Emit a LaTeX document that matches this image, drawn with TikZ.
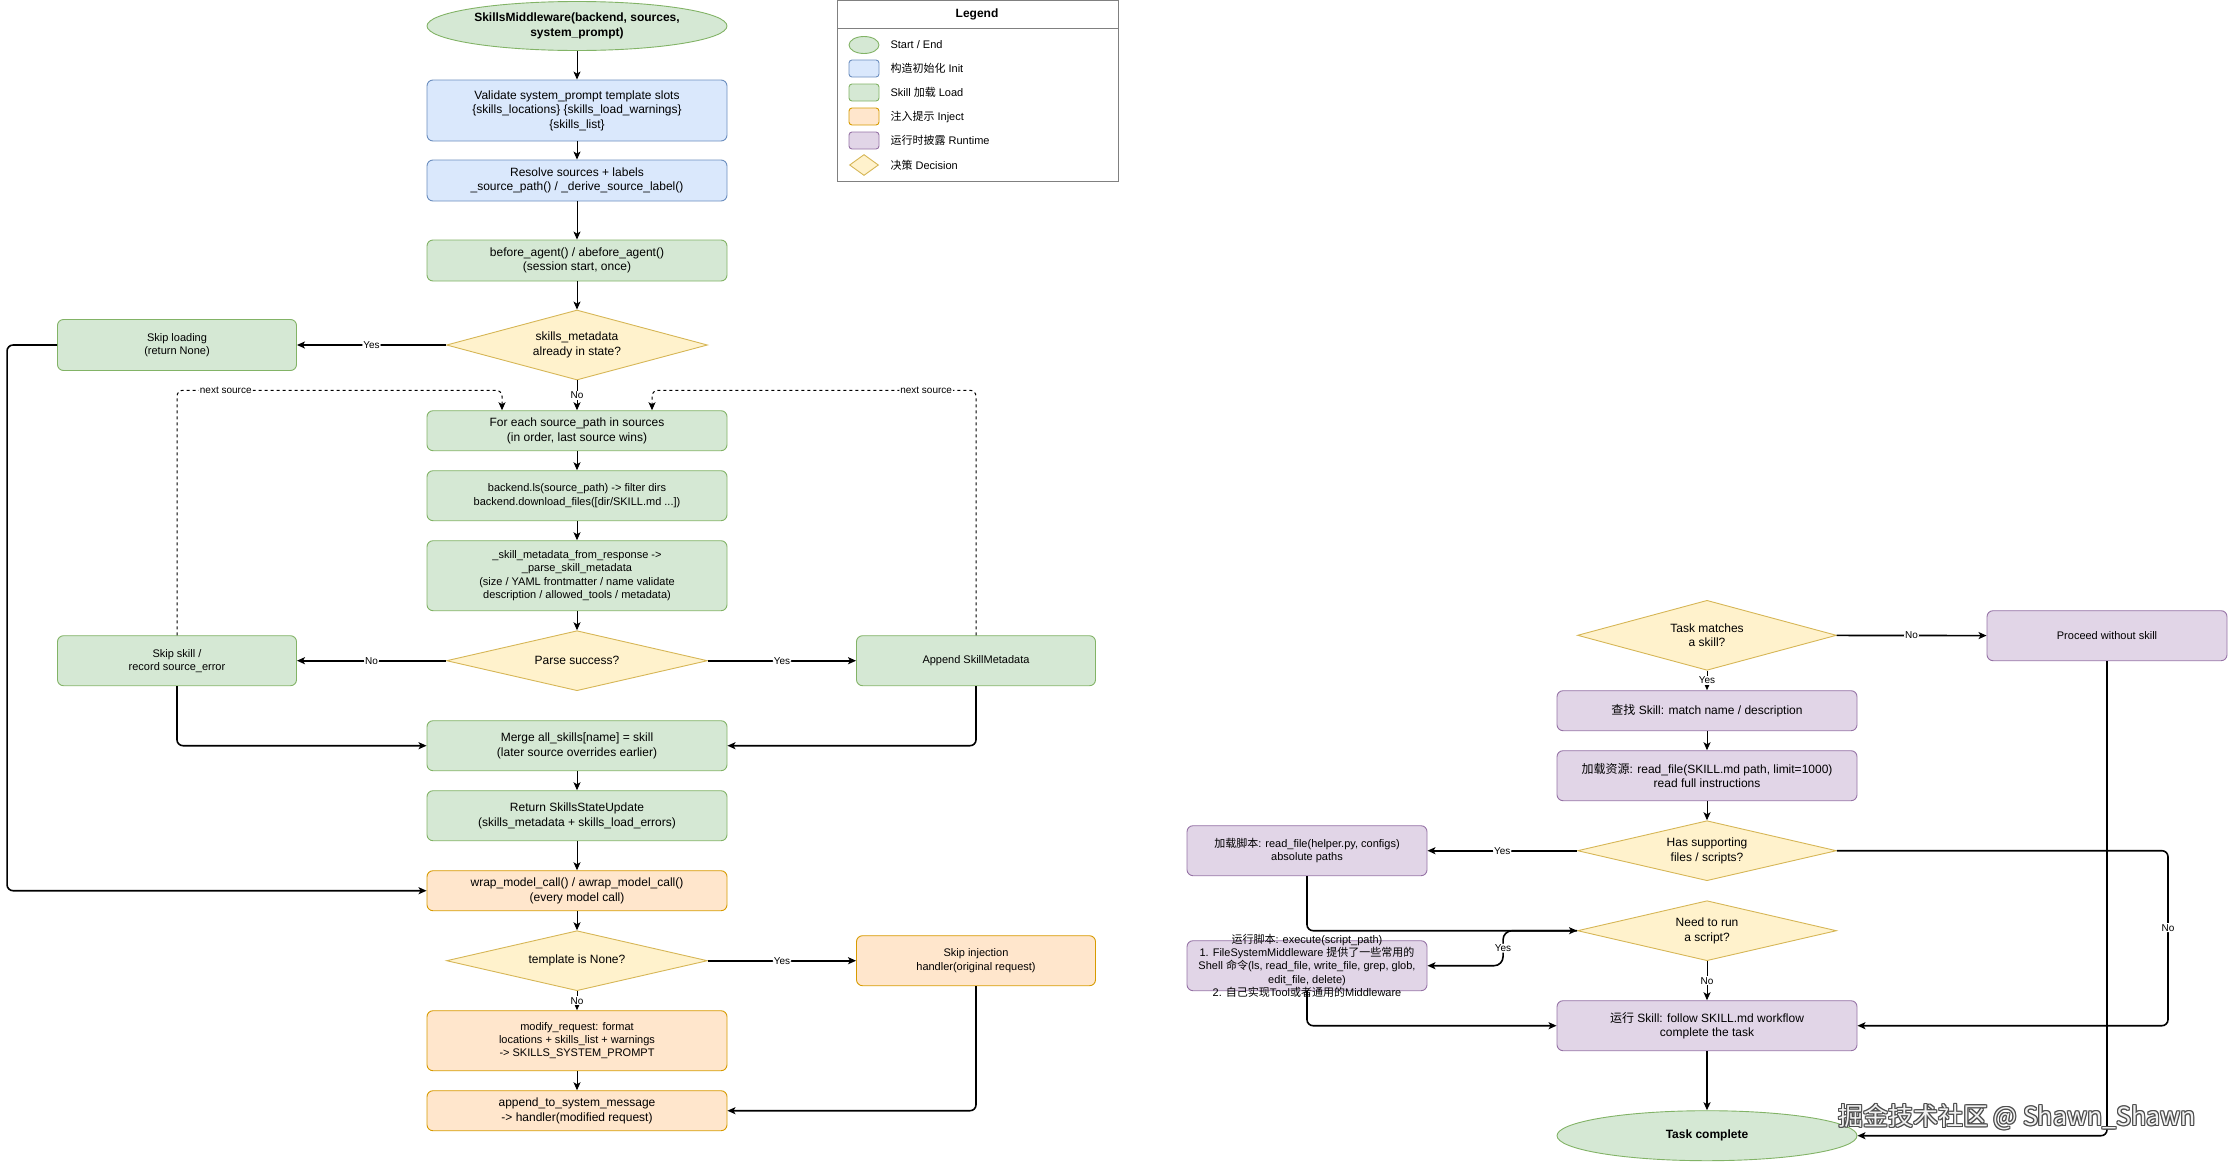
\documentclass[tikz,border=0pt]{standalone}
\usepackage{fontspec}
\setmainfont{Liberation Sans}
\newfontfamily\cjkfont{Noto Sans CJK SC}
\usetikzlibrary{shapes.geometric,arrows.meta}

\definecolor{fillinit}{HTML}{DAE8FC}\definecolor{lineinit}{HTML}{6C8EBF}
\definecolor{fillload}{HTML}{D5E8D4}\definecolor{lineload}{HTML}{82B366}
\definecolor{fillinj}{HTML}{FFE6CC}\definecolor{lineinj}{HTML}{D79B00}
\definecolor{fillrun}{HTML}{E1D5E7}\definecolor{linerun}{HTML}{9673A6}
\definecolor{filldec}{HTML}{FFF2CC}\definecolor{linedec}{HTML}{D6B656}

\newcommand{\zh}[1]{{\cjkfont #1}}
\newcommand{\fmain}{\fontsize{12}{14.4}\selectfont}
\newcommand{\fsmall}{\fontsize{11}{13.2}\selectfont}
\newcommand{\flabel}{\fontsize{10}{12}\selectfont}
\newcommand{\marktext}{掘金技术社区 @ Shawn\_Shawn}

\begin{document}
\begin{tikzpicture}[x=1pt, y=-1pt,
	box/.style={rectangle, rounded corners=6pt, draw, line width=0.9pt, minimum width=300pt, minimum height=40pt, align=center, font=\fmain, inner sep=2pt},
	initbox/.style={box, draw=lineinit, fill=fillinit},
	loadbox/.style={box, draw=lineload, fill=fillload},
	injbox/.style={box, draw=lineinj, fill=fillinj},
	runbox/.style={box, draw=linerun, fill=fillrun},
	decision/.style={diamond, aspect=3.7, draw=linedec, fill=filldec, line width=0.9pt, minimum width=261pt, minimum height=60pt, align=center, font=\fmain, inner sep=1pt},
	terminal/.style={ellipse, draw=lineload, fill=fillload, line width=0.9pt, minimum width=300pt, minimum height=50pt, align=center, font=\fmain\bfseries, inner sep=0pt},
	flow/.style={-{Stealth[length=8pt,width=7pt,inset=2pt]}, line width=1pt},
	flowb/.style={flow, line width=1.6pt, rounded corners=6pt},
	nextsrc/.style={flow, dash pattern=on 3pt off 3pt, rounded corners=6pt},
	elabel/.style={fill=white, inner sep=1pt, font=\flabel},
	legitem/.style={rectangle, rounded corners=3pt, line width=0.9pt, minimum width=30pt, minimum height=17pt, inner sep=0pt},
	markfont/.style={font=\cjkfont\fontsize{25}{30}\selectfont},
]
\useasboundingbox (0,0) rectangle (2229,1162);

% left column: load and inject
\node[terminal, minimum height=49pt] (start) at (577,26) {SkillsMiddleware(backend, sources,\\system\_prompt)};
\node[initbox, minimum height=61pt] (validate) at (577,110.5) {Validate system\_prompt template slots\\\{skills\_locations\} \{skills\_load\_warnings\}\\\{skills\_list\}};
\node[initbox, minimum height=41pt] (resolve) at (577,180.5) {Resolve sources + labels\\\_source\_path() / \_derive\_source\_label()};
\node[loadbox, minimum height=41pt] (before) at (577,260.5) {before\_agent() / abefore\_agent()\\(session start, once)};
\node[decision, minimum height=70pt] (metaq) at (577,345) {skills\_metadata\\already in state?};
\node[loadbox, minimum width=239pt, minimum height=51pt, font=\fsmall] (skipload) at (177,345) {Skip loading\\(return None)};
\node[loadbox] (foreach) at (577,430.7) {For each source\_path in sources\\(in order, last source wins)};
\node[loadbox, minimum height=50pt, font=\fsmall] (backls) at (577,495.7) {backend.ls(source\_path) -> filter dirs\\backend.download\_files([dir/SKILL.md ...])};
\node[loadbox, minimum height=70pt, font=\fsmall] (parsemeta) at (577,575.7) {\_skill\_metadata\_from\_response ->\\\_parse\_skill\_metadata\\(size / YAML frontmatter / name validate\\description / allowed\_tools / metadata)};
\node[decision] (parseq) at (577,660.7) {Parse success?};
\node[loadbox, minimum width=239pt, minimum height=50pt, font=\fsmall] (skipskill) at (177,660.7) {Skip skill /\\record source\_error};
\node[loadbox, minimum width=239pt, minimum height=50pt, font=\fsmall] (append) at (976,660.7) {Append SkillMetadata};
\node[loadbox, minimum height=50pt] (merge) at (577,745.7) {Merge all\_skills[name] = skill\\(later source overrides earlier)};
\node[loadbox, minimum height=50pt] (ret) at (577,815.7) {Return SkillsStateUpdate\\(skills\_metadata + skills\_load\_errors)};
\node[injbox] (wrap) at (577,890.7) {wrap\_model\_call() / awrap\_model\_call()\\(every model call)};
\node[decision] (tmplq) at (577,960.7) {template is None?};
\node[injbox, minimum width=239pt, minimum height=50pt, font=\fsmall] (skipinj) at (976,960.7) {Skip injection\\handler(original request)};
\node[injbox, minimum height=60pt, font=\fsmall] (modify) at (577,1040.7) {modify\_request: format\\locations + skills\_list + warnings\\-> SKILLS\_SYSTEM\_PROMPT};
\node[injbox] (appendmsg) at (577,1110.7) {append\_to\_system\_message\\-> handler(modified request)};

\draw[flow] (start) -- (validate);
\draw[flow] (validate) -- (resolve);
\draw[flow] (resolve) -- (before);
\draw[flow] (before) -- (metaq);
\draw[flowb] (metaq) -- node[elabel]{Yes} (skipload);
\draw[flow] (metaq) -- node[elabel]{No} (foreach);
\draw[flowb] (skipload.west) -- ++(-50,0) |- (wrap.west);
\draw[flow] (foreach) -- (backls);
\draw[flow] (backls) -- (parsemeta);
\draw[flow] (parsemeta) -- (parseq);
\draw[flowb] (parseq) -- node[elabel]{No} (skipskill);
\draw[flowb] (parseq) -- node[elabel]{Yes} (append);
\draw[nextsrc] (skipskill.north) |- node[elabel, pos=0.575]{next source} ([shift={(-75,-20)}]foreach.north) -- ([xshift=-75pt]foreach.north);
\draw[nextsrc] (append.north) |- node[elabel, pos=0.577]{next source} ([shift={(75,-20)}]foreach.north) -- ([xshift=75pt]foreach.north);
\draw[flowb] (skipskill.south) |- (merge.west);
\draw[flowb] (append.south) |- (merge.east);
\draw[flow] (merge) -- (ret);
\draw[flow] (ret) -- (wrap);
\draw[flow] (wrap) -- (tmplq);
\draw[flowb] (tmplq) -- node[elabel]{Yes} (skipinj);
\draw[flow] (tmplq) -- node[elabel]{No} (modify);
\draw[flow] (modify) -- (appendmsg);
\draw[flowb] (skipinj.south) |- (appendmsg.east);

% legend
\node[draw=gray, line width=0.9pt, minimum width=281pt, minimum height=181pt, inner sep=0pt, anchor=north west] (legend) at (837,0) {};
\draw[gray, line width=0.9pt] ([yshift=-28pt]legend.north west) -- ([yshift=-28pt]legend.north east);
\node[font=\fmain\bfseries] (legtitle) at (977,14) {Legend};
\node[ellipse, draw=lineload, fill=fillload, line width=0.9pt, minimum width=30pt, minimum height=17pt, inner sep=0pt] (legend0) at (864,45) {};
\node[anchor=west, font=\fsmall] (legtext0) at (887,45) {Start / End};
\foreach \yy/\kind/\txt in {68.5/init/{\zh{构造初始化} Init}, 92.5/load/{Skill \zh{加载} Load}, 116.5/inj/{\zh{注入提示} Inject}, 140.5/run/{\zh{运行时披露} Runtime}} {
	\node[legitem, draw=line\kind, fill=fill\kind] (leg\kind) at (864,\yy) {};
	\node[anchor=west, font=\fsmall] (legtext\kind) at (887,\yy) {\txt};
}
\node[diamond, draw=linedec, fill=filldec, line width=0.9pt, minimum width=29pt, minimum height=21pt, inner sep=0pt] (legdec) at (864,165) {};
\node[anchor=west, font=\fsmall] (legtextdec) at (887,165) {\zh{决策} Decision};

% right column: runtime
\node[decision, minimum width=259pt, minimum height=70pt] (taskq) at (1707,635.3) {Task matches\\a skill?};
\node[runbox, minimum width=240pt, minimum height=50pt, font=\fsmall] (proceed) at (2107,635.7) {Proceed without skill};
\node[runbox] (find) at (1707,710.7) {\zh{查找} Skill: match name / description};
\node[runbox, minimum height=50pt] (loadres) at (1707,775.7) {\zh{加载资源}: read\_file(SKILL.md path, limit=1000)\\read full instructions};
\node[decision, minimum width=259pt] (supq) at (1707,850.7) {Has supporting\\files / scripts?};
\node[runbox, minimum width=240pt, minimum height=50pt, font=\fsmall] (loadscript) at (1307,850.7) {\zh{加载脚本}: read\_file(helper.py, configs)\\absolute paths};
\node[decision, minimum width=259pt] (runq) at (1707,930.7) {Need to run\\a script?};
\node[runbox, minimum width=240pt, minimum height=50pt, label={[font=\fsmall, align=center]center:\zh{运行脚本}: execute(script\_path)\\1. FileSystemMiddleware \zh{提供了一些常用的}\\Shell \zh{命令}(ls, read\_file, write\_file, grep, glob,\\edit\_file, delete)\\2. \zh{自己实现}Tool\zh{或者通用的}Middleware}] (runscript) at (1307,965.7) {};
\node[runbox, minimum height=50pt] (runskill) at (1707,1025.7) {\zh{运行} Skill: follow SKILL.md workflow\\complete the task};
\node[terminal] (done) at (1707,1135.7) {Task complete};

\draw[flowb] (taskq) -- node[elabel]{No} (proceed);
\draw[flow] (taskq) -- node[elabel]{Yes} (find);
\draw[flow] (find) -- (loadres);
\draw[flow] (loadres) -- (supq);
\draw[flowb] (supq) -- node[elabel]{Yes} (loadscript);
\draw[flowb] (supq.east) -- ++(331,0) |- node[elabel, pos=0.22]{No} (runskill.east);
\draw[flowb] (loadscript.south) |- (runq.west);
\draw[flowb, rounded corners=9pt] (runq.west) -- ++(-74,0) |- node[elabel, pos=0.25]{Yes} (runscript.east);
\draw[flow] (runq) -- node[elabel]{No} (runskill);
\draw[flowb] (runscript.south) |- (runskill.west);
\draw[flowb] (runskill) -- (done);
\draw[flowb] (proceed.south) |- (done.east);

% watermark, outlined
\foreach \dx/\dy [count=\i] in {-1/0, 1/0, 0/-1, 0/1, 1/1, -1/1, 1/-1, -1/-1}
	\node[markfont, text=black!70] (markline\i) at (2017+\dx,1117+\dy) {\marktext};
\node[markfont, text=gray!10] (mark) at (2017,1117) {\marktext};
\end{tikzpicture}
\end{document}
